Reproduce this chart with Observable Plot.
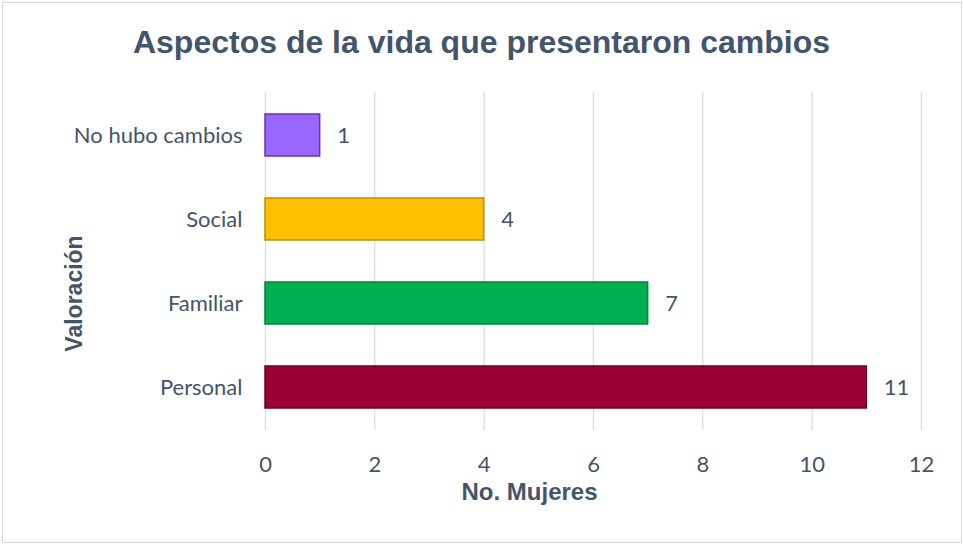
<!DOCTYPE html>
<html>
<head>
<meta charset="utf-8">
<script src="https://cdn.jsdelivr.net/npm/d3@7"></script>
<script src="https://cdn.jsdelivr.net/npm/@observablehq/plot@0.6"></script>
<style>
  html, body { margin: 0; padding: 0; background: #fff; }
  #wrap { position: relative; width: 963px; height: 544px; overflow: hidden; background: #fff; }
  #border { position: absolute; left: 2px; top: 2px; width: 960px; height: 541px; box-sizing: border-box; border: 1px solid #d9d9d9; pointer-events: none; }
  #title { position: absolute; left: 0; top: 0; width: 963px; height: 80px; box-sizing: border-box; padding-top: 26px; text-align: center;
           font-family: "Liberation Sans", Arial, sans-serif; font-weight: bold; font-size: 32px; line-height: 32px; color: #44546A; }
  #chart { position: absolute; left: 0; top: 80px; }
</style>
</head>
<body>
<div id="wrap">
  <div id="title">Aspectos de la vida que presentaron cambios</div>
  <div id="chart"></div>
  <div id="border"></div>
</div>
<script>
const categories = ["No hubo cambios", "Social", "Familiar", "Personal"];
const values = [1, 4, 7, 11];
const fills = ["#9966FF", "#FFC000", "#00B050", "#990033"];
const strokes = ["#7030A0", "#BF9000", "#00843C", "#6B0024"];
const xTicks = [0, 2, 4, 6, 8, 10, 12];
const xLabel = "No. Mujeres";
const yLabel = "Valoración";

const data = categories.map((c, i) => ({cat: c, value: values[i], fill: fills[i], stroke: strokes[i]}));
const txt = "#44546A";
const tickFont = "Lato, 'Open Sans', sans-serif";
const boldFont = "'Liberation Sans', Arial, sans-serif";

const chart = Plot.plot({
  width: 963,
  height: 464,
  marginLeft: 265,
  marginRight: 42,
  marginTop: 12,
  marginBottom: 114,
  style: {fontFamily: tickFont, color: txt, background: "transparent"},
  x: {domain: [0, 12]},
  y: {domain: categories, paddingInner: 0.5, paddingOuter: 0.25},
  color: {type: "identity"},
  marks: [
    Plot.gridX(xTicks, {stroke: "#d9dde3", strokeOpacity: 1, strokeWidth: 1.3}),
    Plot.barX(data, {x: "value", y: "cat", fill: "fill", stroke: "stroke", strokeWidth: 1.5}),
    Plot.text(data, {x: "value", y: "cat", text: d => String(d.value), dx: 17, textAnchor: "start",
                     fontSize: 22, fill: txt}),
    Plot.axisX(xTicks, {tickSize: 0, tickPadding: 26, fontSize: 22, label: null, fill: txt}),
    Plot.axisY({tickSize: 0, tickPadding: 23, fontSize: 22, label: null, fill: txt}),
    Plot.text([xLabel], {frameAnchor: "bottom", dx: -64, dy: 62, lineAnchor: "middle", textAnchor: "middle",
                         fontFamily: boldFont, fontWeight: "bold", fontSize: 24, fill: txt}),
    Plot.text([yLabel], {frameAnchor: "left", dx: -191, dy: 32, rotate: -90, lineAnchor: "middle", textAnchor: "middle",
                         fontFamily: boldFont, fontWeight: "bold", fontSize: 23, fill: txt})
  ]
});
document.getElementById("chart").appendChild(chart);
</script>
</body>
</html>
